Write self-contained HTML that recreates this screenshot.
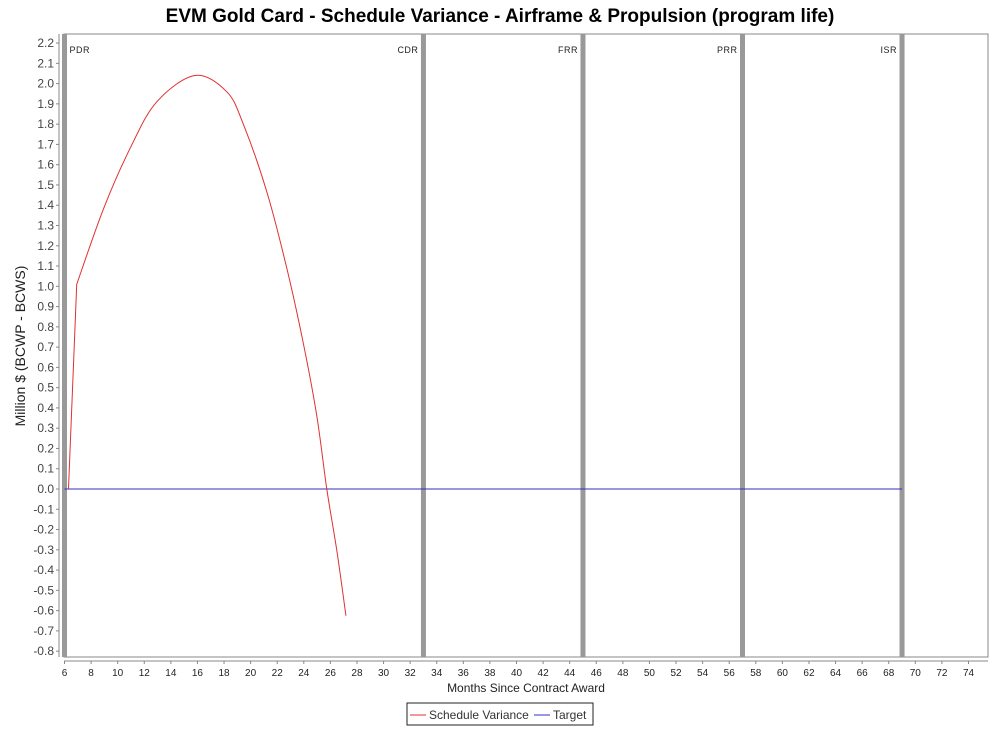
<!DOCTYPE html>
<html><head><meta charset="utf-8"><style>
body{margin:0;background:#fff;width:1000px;height:727px;overflow:hidden;font-family:"Liberation Sans",sans-serif}
</style></head><body>
<svg id="chart" width="1000" height="727" xmlns="http://www.w3.org/2000/svg">
<text x="500" y="22" text-anchor="middle" font-size="19" font-weight="bold" font-family="Liberation Sans, sans-serif">EVM Gold Card - Schedule Variance - Airframe &amp; Propulsion (program life)</text>
<rect x="64" y="34" width="924" height="623" fill="#fff" stroke="#888"/>
<g id="yaxis"></g>
<g id="xaxis"></g>
<g id="marks"></g>
<text transform="translate(25,346) rotate(-90)" text-anchor="middle" font-size="14" fill="#222">Million $ (BCWP - BCWS)</text>
<text x="526" y="692" text-anchor="middle" font-size="12" fill="#222">Months Since Contract Award</text>
<g>
<rect x="407" y="703" width="186" height="22" fill="#fff" stroke="#222"/>
<line x1="410" y1="715" x2="426" y2="715" stroke="#e03030"/>
<text x="429" y="719" font-size="12" fill="#333">Schedule Variance</text>
<line x1="534" y1="715" x2="550" y2="715" stroke="#3030c0"/>
<text x="553" y="719" font-size="12" fill="#333">Target</text>
</g>
</svg>
<script>
const yTicks=[-0.8,-0.7,-0.6,-0.5,-0.4,-0.3,-0.2,-0.1,0,0.1,0.2,0.3,0.4,0.5,0.6,0.7,0.8,0.9,1.0,1.1,1.2,1.3,1.4,1.5,1.6,1.7,1.8,1.9,2.0,2.1,2.2];
const xTicks=[6,8,10,12,14,16,18,20,22,24,26,28,30,32,34,36,38,40,42,44,46,48,50,52,54,56,58,60,62,64,66,68,70,72,74];
const months=[6.3,6.92,8.92,10.93,12.94,15.82,18.2,19.45,21.2,22.7,23.97,24.98,25.73,26.49,27.17];
const variance=[0,1.01,1.38,1.68,1.91,2.04,1.96,1.80,1.47,1.095,0.717,0.36,0,-0.306,-0.625];
const milestoneMonths=[6,33,45,57,69];
const milestoneLabels=["PDR","CDR","FRR","PRR","ISR"];
const targetMonths=[6,69];
const targetValues=[0,0];
const NS="http://www.w3.org/2000/svg";
const X=m=>64.5+(m-6)*(904/68);
const Y=v=>489-v*202.7;
function mk(tag,attrs,parent,text){const e=document.createElementNS(NS,tag);for(const k in attrs)e.setAttribute(k,attrs[k]);if(text!==undefined)e.textContent=text;parent.appendChild(e);return e;}
const ya=document.getElementById('yaxis'),xa=document.getElementById('xaxis'),mg=document.getElementById('marks');
mk('line',{x1:59,y1:34,x2:59,y2:657,stroke:'#888'},ya);
yTicks.forEach(v=>{const y=Y(v);mk('line',{x1:56,y1:y,x2:59,y2:y,stroke:'#888'},ya);
const t=mk('text',{x:54,y:y+4,'text-anchor':'end','font-size':12,fill:'#444'},ya,v.toFixed(1));

});
mk('line',{x1:64,y1:661,x2:988,y2:661,stroke:'#888'},xa);
xTicks.forEach(m=>{const x=X(m);mk('line',{x1:x,y1:661,x2:x,y2:664,stroke:'#888'},xa);
const t=mk('text',{x:x,y:676,'text-anchor':'middle','font-size':10,fill:'#222'},xa,String(m));

});
milestoneMonths.forEach((m,i)=>{const x=X(m);
const r=mk('rect',{x:x-2.5,y:34,width:5,height:623,fill:'#999'},mg);


const t=mk('text',{x:i===0?x+5:x-5,y:53,'text-anchor':i===0?'start':'end','font-size':9,fill:'#222','letter-spacing':'0.5'},mg,milestoneLabels[i]);

});
const tl=mk('polyline',{points:targetMonths.map((m,i)=>X(m)+','+Y(targetValues[i])).join(' '),fill:'none',stroke:'#3030c0'},mg);


let d='';
for(let i=0;i<months.length;i++){
 if(i===0){d='M'+X(months[0])+','+Y(variance[0]);continue;}
 if(i===1){d+=' L'+X(months[i])+','+Y(variance[i]);continue;}
 const p0=i>=3?[X(months[i-2]),Y(variance[i-2])]:[X(months[i-1]),Y(variance[i-1])];
 const p1=[X(months[i-1]),Y(variance[i-1])],p2=[X(months[i]),Y(variance[i])],p3=i+1<months.length?[X(months[i+1]),Y(variance[i+1])]:p2;
 const c1=[p1[0]+(p2[0]-p0[0])/6,p1[1]+(p2[1]-p0[1])/6],c2=[p2[0]-(p3[0]-p1[0])/6,p2[1]-(p3[1]-p1[1])/6];
 d+=' C'+c1+' '+c2+' '+p2;
}
const sv=mk('path',{d:d,fill:'none',stroke:'#e03030','stroke-width':1},mg);


</script>
</body></html>
